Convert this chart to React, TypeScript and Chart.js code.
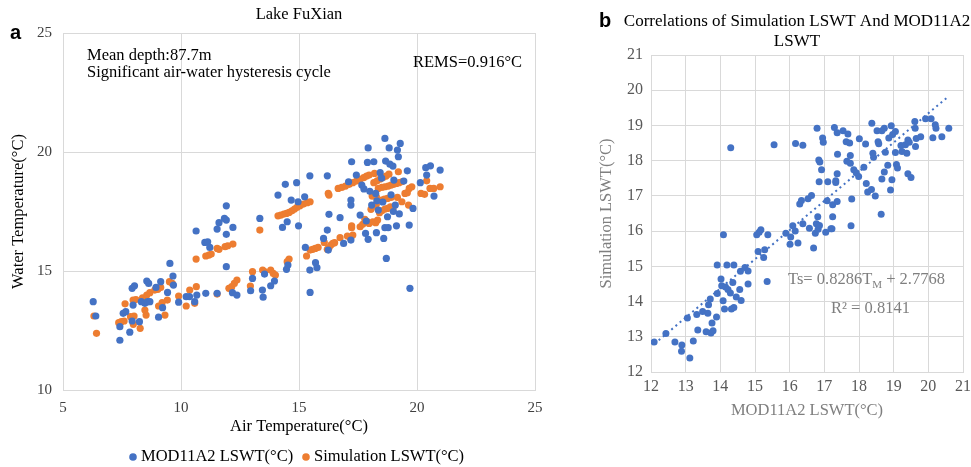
import { useEffect, useRef } from "react";
import { Chart, registerables } from "chart.js";

Chart.register(...registerables);

const SERIF = '"Liberation Serif", "Times New Roman", serif';
const SANS = '"Liberation Sans", Arial, sans-serif';
const BLUE = "#4472C4";
const ORANGE = "#ED7D31";
const GRID = "#d9d9d9";

// ---------- Panel a: Lake FuXian (air temperature vs water temperature) ----------
const panelATitle = "Lake FuXian";
const panelAXTicks = [5, 10, 15, 20, 25];
const panelAYTicks = [10, 15, 20, 25];
const seriesNames = ["MOD11A2 LSWT(°C)", "Simulation LSWT(°C)"];

// [air temperature, MOD11A2 LSWT]
const modPoints: [number, number][] = [
  [6.28, 13.71], [6.39, 13.11], [7.41, 12.09], [7.41, 12.66], [7.55, 13.22], [7.66, 13.29],
  [7.83, 12.43], [7.93, 12.9], [7.97, 13.57], [7.93, 14.27], [8.03, 14.38], [8.24, 12.87],
  [8.32, 13.71], [8.47, 13.64], [8.55, 14.58], [8.63, 14.48], [8.58, 13.71], [8.68, 13.71],
  [8.94, 14.31], [9.05, 13.06], [9.14, 14.55], [9.22, 13.46], [9.43, 14.1], [9.53, 15.32],
  [9.66, 14.79], [9.68, 14.41], [9.9, 13.69], [10.22, 13.92], [10.36, 13.92], [10.58, 13.71],
  [10.64, 16.68], [10.67, 13.99], [11.01, 16.2], [11.13, 16.23], [11.22, 15.99], [11.05, 14.06],
  [11.53, 16.76], [11.61, 17.03], [11.53, 14.06], [11.84, 17.21], [11.92, 17.14], [11.92, 17.74],
  [11.92, 16.54], [11.92, 15.18], [12.2, 16.83], [12.18, 14.09], [12.37, 13.99], [12.95, 14.17],
  [13.03, 14.69], [13.34, 17.21], [13.45, 14.2], [13.48, 13.9], [13.54, 14.87], [13.8, 14.38],
  [13.96, 14.58], [14.11, 18.19], [14.3, 16.83], [14.42, 18.64], [14.5, 17.07], [14.47, 15.07],
  [14.53, 15.25], [14.67, 17.98], [14.9, 18.71], [14.98, 16.9], [14.96, 17.91], [15.24, 18.12],
  [15.27, 15.99], [15.46, 19.0], [15.46, 15.04], [15.47, 14.1], [15.7, 15.35], [15.76, 15.14],
  [16.04, 16.37], [16.2, 16.72], [16.2, 19.0], [16.27, 17.38], [16.24, 15.88], [16.74, 17.24],
  [16.89, 16.16], [17.2, 16.3], [17.2, 17.77], [17.2, 17.98], [17.23, 19.59], [17.43, 19.03],
  [17.59, 17.35], [17.66, 18.61], [17.82, 16.58], [17.93, 16.33], [17.9, 19.56], [17.93, 20.17],
  [18.08, 17.77], [18.17, 19.59], [18.28, 16.61], [18.25, 18.26], [18.36, 17.56], [18.44, 19.13],
  [18.59, 16.37], [18.64, 20.57], [18.67, 19.62], [18.7, 15.53], [18.64, 16.82], [18.75, 17.28],
  [18.78, 16.82], [18.82, 20.17], [18.85, 19.49], [18.98, 19.41], [19.02, 18.82], [19.08, 17.77],
  [19.13, 16.9], [19.17, 20.08], [19.21, 19.8], [19.29, 20.36], [19.44, 18.78], [19.59, 19.21],
  [19.67, 16.93], [19.7, 14.27], [19.83, 17.63], [20.14, 18.71], [20.37, 19.34], [20.41, 19.03],
  [20.57, 19.42], [20.72, 18.15], [20.98, 19.24], [17.1, 18.75], [17.75, 18.45], [18.0, 18.35],
  [18.5, 18.9], [18.9, 18.2], [19.0, 17.5], [18.55, 17.9], [17.85, 17.1], [19.25, 17.4],
  [18.3, 17.95],
];

// [air temperature, simulated LSWT]
const simPoints: [number, number][] = [
  [6.31, 13.11], [6.42, 12.38], [7.36, 12.83], [7.47, 12.87], [7.59, 12.9], [7.63, 13.62],
  [7.86, 13.08], [7.97, 13.78], [8.01, 13.11], [7.98, 12.76], [8.09, 13.8], [8.27, 12.59],
  [8.37, 13.87], [8.47, 13.36], [8.52, 13.15], [8.55, 13.99], [8.68, 14.09], [8.89, 14.2],
  [9.02, 14.23], [9.14, 14.31], [9.05, 13.53], [9.2, 13.67], [9.32, 13.15], [9.42, 13.78],
  [9.51, 14.55], [9.63, 14.48], [9.9, 13.95], [10.22, 13.53], [10.37, 14.2], [10.58, 13.64],
  [10.65, 14.34], [10.64, 15.5], [11.05, 15.63], [11.18, 15.67], [11.28, 15.71], [11.53, 14.03],
  [11.53, 15.95], [11.61, 15.91], [11.87, 16.02], [11.98, 16.06], [12.2, 16.13], [12.03, 14.27],
  [12.15, 14.34], [12.26, 14.48], [12.37, 14.62], [12.94, 14.37], [13.03, 14.97], [13.34, 16.72],
  [13.46, 15.04], [13.54, 14.97], [13.8, 15.04], [13.91, 14.9], [14.0, 14.83], [14.11, 17.32],
  [14.23, 17.35], [14.36, 17.39], [14.47, 17.42], [14.58, 17.46], [14.7, 17.53], [14.81, 17.6],
  [14.91, 17.67], [15.04, 17.74], [15.19, 17.81], [15.35, 17.87], [15.47, 17.91], [14.5, 15.39],
  [14.58, 15.5], [15.32, 15.63], [15.47, 15.88], [15.58, 15.91], [15.69, 15.95], [15.81, 15.99],
  [16.07, 16.2], [16.2, 15.91], [16.27, 15.98], [16.35, 16.09], [16.43, 16.16], [16.51, 16.19],
  [16.24, 18.26], [16.27, 18.19], [16.74, 16.4], [17.05, 16.47], [17.17, 16.4], [17.28, 16.51],
  [17.23, 16.82], [17.23, 16.9], [17.59, 16.86], [17.7, 16.96], [17.79, 17.17], [17.9, 17.07],
  [17.97, 17.0], [18.13, 17.07], [18.25, 17.03], [18.33, 17.14], [18.05, 17.59], [18.16, 17.73],
  [18.28, 17.81], [18.41, 17.45], [18.51, 17.53], [18.64, 17.6], [18.75, 17.63], [18.87, 17.7],
  [18.98, 17.63], [18.51, 17.98], [18.62, 18.02], [18.75, 18.05], [18.9, 18.09], [18.1, 18.15],
  [18.28, 18.12], [16.66, 18.47], [16.81, 18.51], [16.97, 18.57], [17.13, 18.64], [17.28, 18.71],
  [17.43, 18.78], [17.59, 18.85], [17.74, 18.92], [17.86, 18.99], [17.97, 19.03], [18.17, 18.71],
  [18.31, 18.79], [18.44, 18.87], [18.56, 18.93], [18.69, 18.99], [18.81, 19.07], [18.2, 19.1],
  [18.36, 18.47], [18.51, 18.51], [18.64, 18.54], [18.78, 18.57], [18.9, 18.61], [19.02, 18.64],
  [19.13, 18.68], [19.24, 18.71], [19.36, 18.75], [19.21, 19.17], [19.17, 18.09], [19.36, 17.91],
  [19.49, 18.26], [19.59, 18.29], [19.67, 18.47], [19.78, 18.54], [19.64, 17.77], [20.17, 18.26],
  [20.32, 18.22], [20.41, 18.79], [20.55, 18.47], [20.71, 18.47], [20.98, 18.54],
];

const noteLines = ["Mean depth:87.7m", "Significant air-water hysteresis cycle"];
const rmseNote = "REMS=0.916°C";

// ---------- Panel b: correlation ----------
const panelBTitle = ["Correlations of Simulation LSWT And MOD11A2", "LSWT"];
const panelBTicks = [12, 13, 14, 15, 16, 17, 18, 19, 20, 21];

// [MOD11A2 LSWT, simulated LSWT]
const corrPoints: [number, number][] = [
  [12.09, 12.85], [12.43, 13.09], [12.69, 12.85], [12.89, 12.77], [12.88, 12.59], [13.12, 12.4],
  [13.22, 12.88], [13.05, 13.53], [13.35, 13.19], [13.32, 13.63], [13.49, 13.72], [13.59, 13.14],
  [13.64, 13.67], [13.66, 13.91], [13.71, 14.07], [13.73, 13.11], [13.79, 13.17], [13.76, 13.39],
  [13.89, 13.56], [13.91, 14.23], [13.91, 15.04], [14.02, 14.64], [14.04, 14.45], [14.09, 15.9],
  [14.08, 14.02], [14.12, 13.79], [14.19, 15.04], [14.15, 14.41], [14.22, 14.34], [14.29, 14.24],
  [14.32, 13.79], [14.3, 18.37], [14.36, 14.54], [14.39, 15.04], [14.39, 13.83], [14.46, 14.13],
  [14.56, 14.34], [14.6, 14.03], [14.58, 14.86], [14.71, 14.97], [14.8, 14.87], [14.8, 14.5],
  [15.05, 15.9], [15.12, 15.97], [15.17, 16.04], [15.09, 15.42], [15.25, 15.25], [15.28, 15.47],
  [15.37, 15.9], [15.35, 14.57], [15.55, 18.45], [15.89, 15.94], [16.01, 15.63], [16.03, 15.83],
  [16.09, 16.15], [16.16, 16.0], [16.24, 15.66], [16.17, 18.49], [16.38, 18.44], [16.29, 16.77],
  [16.34, 16.87], [16.38, 16.21], [16.53, 16.92], [16.63, 17.01], [16.57, 16.08], [16.69, 15.52],
  [16.74, 15.94], [16.77, 16.21], [16.81, 16.41], [16.79, 18.92], [16.84, 18.02], [16.87, 17.96],
  [16.85, 17.4], [16.82, 16.05], [16.86, 16.16], [16.92, 17.74], [16.95, 18.64], [16.97, 18.52],
  [17.04, 15.97], [17.08, 16.86], [17.1, 17.4], [17.19, 16.07], [17.24, 16.41], [17.24, 16.75],
  [17.22, 16.07], [17.29, 18.94], [17.37, 18.79], [17.33, 17.38], [17.37, 17.63], [17.33, 17.43],
  [17.37, 16.84], [17.38, 18.18], [17.54, 18.85], [17.63, 18.54], [17.68, 18.76], [17.65, 17.98],
  [17.73, 18.5], [17.75, 18.15], [17.75, 17.93], [17.79, 16.91], [17.77, 16.15], [17.85, 17.74],
  [17.92, 17.66], [17.99, 17.55], [18.01, 18.62], [18.14, 17.81], [18.19, 18.47], [18.21, 17.35],
  [18.25, 17.11], [18.36, 17.18], [18.37, 19.06], [18.4, 18.21], [18.42, 18.1], [18.47, 17.0],
  [18.52, 18.85], [18.55, 18.54], [18.57, 18.48], [18.64, 16.48], [18.66, 17.48], [18.66, 18.85],
  [18.73, 18.92], [18.73, 17.68], [18.76, 18.24], [18.83, 17.87], [18.86, 18.64], [18.91, 17.17],
  [18.93, 18.99], [18.95, 17.46], [18.97, 18.74], [19.05, 18.83], [19.05, 18.23], [19.08, 17.89],
  [19.11, 17.79], [19.21, 18.43], [19.24, 18.26], [19.34, 18.45], [19.38, 18.21], [19.41, 18.59],
  [19.45, 18.52], [19.41, 17.63], [19.5, 17.52], [19.61, 19.11], [19.62, 18.92], [19.63, 18.4],
  [19.65, 18.63], [19.78, 18.68], [19.92, 19.19], [20.08, 19.19], [20.13, 18.65], [20.2, 19.02],
  [20.22, 18.92], [20.39, 18.68], [20.59, 18.92],
];

// endpoints of the dotted linear trend line, as drawn
const trendPoints: [number, number][] = [[12.1, 12.8], [20.55, 19.8]];
const trendLabel = ["Ts= 0.8286T", "M", " + 2.7768"];
const r2Label = "R² = 0.8141";

const toXY = (pts: [number, number][]) => pts.map(([x, y]) => ({ x, y }));

function fixSize(w: number | null, h: number | null) {
  return (s: any) => {
    if (w !== null) s.width = w;
    if (h !== null) s.height = h;
    s.paddingLeft = 0;
    s.paddingRight = 0;
    s.paddingTop = 0;
    s.paddingBottom = 0;
  };
}

function PanelA() {
  const ref = useRef<HTMLCanvasElement>(null);
  useEffect(() => {
    const textPlugin = {
      id: "panelAText",
      afterDraw(chart: any) {
        const ctx = chart.ctx as CanvasRenderingContext2D;
        const area = chart.chartArea;
        ctx.save();
        ctx.textBaseline = "middle";
        ctx.fillStyle = "#000";
        ctx.font = `bold 20px ${SANS}`;
        ctx.textAlign = "left";
        ctx.fillText("a", 10, 33);
        ctx.font = `16.5px ${SERIF}`;
        ctx.textAlign = "center";
        ctx.fillText(panelATitle, (area.left + area.right) / 2, 15);
        ctx.textAlign = "left";
        ctx.fillText(noteLines[0], 87, 56);
        ctx.fillText(noteLines[1], 87, 73);
        ctx.textAlign = "right";
        ctx.fillText(rmseNote, 522, 63);
        // legend
        const ds = chart.data.datasets;
        ctx.textAlign = "left";
        ctx.font = `16.5px ${SERIF}`;
        const legendY = 457;
        const items = [
          { x: 133, label: ds[0].label, color: ds[0].backgroundColor },
          { x: 306, label: ds[1].label, color: ds[1].backgroundColor },
        ];
        for (const it of items) {
          ctx.fillStyle = it.color;
          ctx.beginPath();
          ctx.arc(it.x, legendY, 3.8, 0, Math.PI * 2);
          ctx.fill();
          ctx.fillStyle = "#000";
          ctx.fillText(it.label, it.x + 8, legendY);
        }
        ctx.restore();
      },
    };
    const chart = new Chart(ref.current!, {
      type: "scatter",
      data: {
        datasets: [
          {
            label: seriesNames[0],
            data: toXY(modPoints),
            backgroundColor: BLUE,
            borderWidth: 0,
            pointRadius: 3.6,
          },
          {
            label: seriesNames[1],
            data: toXY(simPoints),
            backgroundColor: ORANGE,
            borderWidth: 0,
            pointRadius: 3.6,
          },
        ],
      },
      options: {
        animation: false,
        responsive: false,
        layout: { padding: { left: 9, right: 55, top: 33, bottom: 30 } },
        plugins: { legend: { display: false }, title: { display: false }, tooltip: { enabled: false } },
        scales: {
          x: {
            type: "linear",
            min: panelAXTicks[0],
            max: panelAXTicks[panelAXTicks.length - 1],
            afterBuildTicks: (s: any) => {
              s.ticks = panelAXTicks.map((v) => ({ value: v }));
            },
            afterFit: fixSize(null, 47),
            grid: { color: GRID, drawTicks: false },
            border: { color: GRID },
            ticks: { padding: 9, color: "#404040", font: { family: SERIF, size: 15 } },
            title: {
              display: true,
              text: "Air Temperature(°C)",
              color: "#000",
              padding: 0,
              font: { family: SERIF, size: 16.5 },
            },
          },
          y: {
            type: "linear",
            min: panelAYTicks[0],
            max: panelAYTicks[panelAYTicks.length - 1],
            afterBuildTicks: (s: any) => {
              s.ticks = panelAYTicks.map((v) => ({ value: v }));
            },
            afterFit: fixSize(54, null),
            grid: { color: GRID, drawTicks: false },
            border: { color: GRID },
            ticks: { padding: 11, color: "#404040", font: { family: SERIF, size: 15 } },
            title: {
              display: true,
              text: "Water Temperature(°C)",
              color: "#000",
              padding: 0,
              font: { family: SERIF, size: 16.5 },
            },
          },
        },
      },
      plugins: [textPlugin],
    });
    return () => chart.destroy();
  }, []);
  return (
    <canvas
      ref={ref}
      width={590}
      height={467}
      style={{ position: "absolute", left: 0, top: 0, width: 590, height: 467 }}
    />
  );
}

function PanelB() {
  const ref = useRef<HTMLCanvasElement>(null);
  useEffect(() => {
    const textPlugin = {
      id: "panelBText",
      afterDraw(chart: any) {
        const ctx = chart.ctx as CanvasRenderingContext2D;
        ctx.save();
        ctx.textBaseline = "middle";
        ctx.fillStyle = "#000";
        ctx.font = `bold 20px ${SANS}`;
        ctx.textAlign = "left";
        ctx.fillText("b", 19, 21);
        ctx.font = `17px ${SERIF}`;
        ctx.textAlign = "center";
        ctx.fillText(panelBTitle[0], 217, 22);
        ctx.fillText(panelBTitle[1], 217, 42);
        // regression annotation
        ctx.fillStyle = "#7f7f7f";
        ctx.textAlign = "left";
        ctx.font = `16.5px ${SERIF}`;
        let x = 208;
        const y = 280;
        ctx.fillText(trendLabel[0], x, y);
        x += ctx.measureText(trendLabel[0]).width;
        ctx.font = `11px ${SERIF}`;
        ctx.fillText(trendLabel[1], x, y + 5);
        x += ctx.measureText(trendLabel[1]).width;
        ctx.font = `16.5px ${SERIF}`;
        ctx.fillText(trendLabel[2], x, y);
        ctx.fillText(r2Label, 251, 309);
        ctx.restore();
      },
    };
    const chart = new Chart(ref.current!, {
      type: "scatter",
      data: {
        datasets: [
          {
            label: "corr",
            data: toXY(corrPoints),
            backgroundColor: BLUE,
            borderWidth: 0,
            pointRadius: 3.5,
          },
          {
            type: "line",
            label: "trend",
            data: toXY(trendPoints),
            borderColor: BLUE,
            borderWidth: 2,
            borderDash: [2, 3.5],
            pointRadius: 0,
            fill: false,
          } as any,
        ],
      },
      options: {
        animation: false,
        responsive: false,
        layout: { padding: { left: 17, right: 8, top: 55, bottom: 46 } },
        plugins: { legend: { display: false }, title: { display: false }, tooltip: { enabled: false } },
        scales: {
          x: {
            type: "linear",
            min: panelBTicks[0],
            max: panelBTicks[panelBTicks.length - 1],
            afterBuildTicks: (s: any) => {
              s.ticks = panelBTicks.map((v) => ({ value: v }));
            },
            afterFit: fixSize(null, 49),
            grid: { color: GRID, drawTicks: false },
            border: { color: GRID },
            ticks: { padding: 5, color: "#595959", font: { family: SERIF, size: 16 } },
            title: {
              display: true,
              text: "MOD11A2 LSWT(°C)",
              color: "#7f7f7f",
              padding: 0,
              font: { family: SERIF, size: 16.5 },
            },
          },
          y: {
            type: "linear",
            min: panelBTicks[0],
            max: panelBTicks[panelBTicks.length - 1],
            afterBuildTicks: (s: any) => {
              s.ticks = panelBTicks.map((v) => ({ value: v }));
            },
            afterFit: fixSize(54, null),
            grid: { color: GRID, drawTicks: false },
            border: { color: GRID },
            ticks: { padding: 8, color: "#595959", font: { family: SERIF, size: 16 } },
            title: {
              display: true,
              text: "Simulation LSWT(°C)",
              color: "#7f7f7f",
              padding: 0,
              font: { family: SERIF, size: 16.5 },
            },
          },
        },
      },
      plugins: [textPlugin],
    });
    return () => chart.destroy();
  }, []);
  return (
    <canvas
      ref={ref}
      width={391}
      height={467}
      style={{ position: "absolute", left: 580, top: 0, width: 391, height: 467 }}
    />
  );
}

export default function App() {
  return (
    <div
      style={{
        position: "fixed",
        left: 0,
        top: 0,
        width: 971,
        height: 467,
        background: "#fff",
        overflow: "hidden",
      }}
    >
      <PanelA />
      <PanelB />
    </div>
  );
}
